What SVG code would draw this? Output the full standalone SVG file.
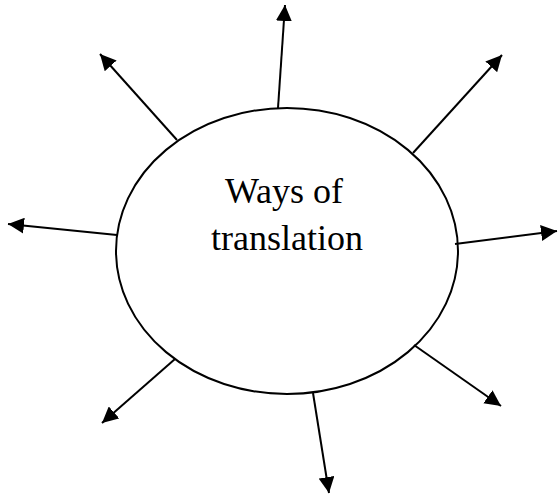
<svg xmlns="http://www.w3.org/2000/svg" width="558" height="495" viewBox="0 0 558 495">
<style>
.c{stroke:#000;stroke-width:2;fill:none;marker-end:url(#ah)}
.t{font-family:"Liberation Serif","Times New Roman",serif;font-size:36px;fill:#000;text-anchor:middle}
</style>
<defs>
<marker id="ah" markerUnits="userSpaceOnUse" markerWidth="16" markerHeight="16" viewBox="0 0 16 16" refX="16" refY="8" orient="auto">
<path d="M0,0 L16,8 L0,16 Z" fill="#000"/>
</marker>
</defs>
<rect width="558" height="495" fill="#fff"/>
<g id="connectors">
<line class="c" x1="278" y1="108" x2="285" y2="5"/>
<line class="c" x1="413" y1="153" x2="502" y2="55"/>
<line class="c" x1="455" y1="244" x2="557" y2="231"/>
<line class="c" x1="414" y1="345" x2="501" y2="406"/>
<line class="c" x1="313" y1="393" x2="329" y2="493"/>
<line class="c" x1="175" y1="359" x2="102" y2="423"/>
<line class="c" x1="117" y1="235" x2="8" y2="224"/>
<line class="c" x1="177" y1="140" x2="100" y2="54"/>
</g>
<g id="center">
<ellipse cx="287" cy="251" rx="171" ry="143" fill="none" stroke="#000" stroke-width="2"/>
<text class="t" x="284" y="203">Ways of</text>
<text class="t" x="287" y="250">translation</text>
</g>
</svg>
